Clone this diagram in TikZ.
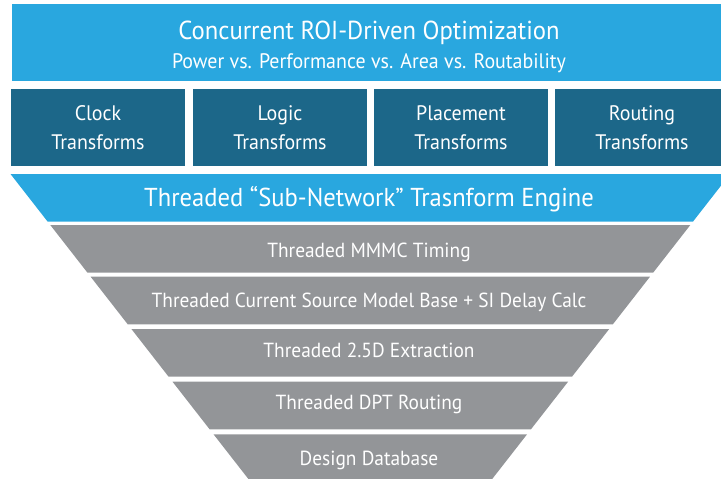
\documentclass[tikz,border=0pt]{standalone}
\usepackage{fontspec}
\setmainfont{PT Sans}[FakeStretch=0.95]

\definecolor{roiblue}{RGB}{41,167,223}
\definecolor{xformteal}{RGB}{28,103,137}
\definecolor{layergray}{RGB}{147,149,152}

\begin{document}
\begin{tikzpicture}
[
    x=1pt, y=-1pt,
    roi/.style={fill=roiblue},
    xform/.style={fill=xformteal},
    layer/.style={fill=layergray},
    whitetext/.style={text=white, inner sep=0pt, anchor=base},
    xformtext/.style={text=white, inner sep=0pt, align=center,
        font=\fontsize{21}{29}\selectfont},
    layertext/.style={whitetext, font=\fontsize{20.4}{23}\selectfont},
]
\clip (0,0) rectangle (721,479);

% optimization banner
\fill[roi] (12,4) rectangle (726,80.5);
\node[whitetext, font=\fontsize{26}{28}\selectfont] (title) at (369,39)
    {Concurrent ROI-Driven Optimization};
\node[whitetext, font=\fontsize{21}{24}\selectfont] (tradeoff) at (369,68)
    {Power vs. Performance vs. Area vs. Routability};

% transform boxes
\foreach \x/\name/\txt in {11/clock/Clock, 193/logic/Logic,
    374/placement/Placement, 555/routing/Routing}
{
    \fill[xform] (\x,89) rectangle ++(174,77);
    \node[xformtext] (\name) at (\x+87,128) {\txt\\Transforms};
}

% engine and the layers below it
\fill[roi] (10.5,174) -- (730.1,174) -- (730.1-0.78*47.7,221.7)
    -- (10.5+0.78*47.7,221.7) -- cycle;
\node[whitetext, font=\fontsize{25.9}{28}\selectfont] (engine) at (369,206.5)
    {Threaded “Sub-Network” Trasnform Engine};

\foreach \t/\b/\base/\name/\txt in {
    225/272.7/257.7/timing/{Threaded MMMC Timing},
    276.7/324.3/307.3/delaycalc/{Threaded Current Source Model Base + SI Delay Calc},
    329/376.7/357.7/extraction/{Threaded 2.5D Extraction},
    381.7/429.3/409.3/dpt/{Threaded DPT Routing},
    434.3/481/465.7/database/{Design Database}}
{
    \pgfmathsetmacro\lt{10.5+0.78*(\t-174)}
    \pgfmathsetmacro\rt{730.1-0.78*(\t-174)}
    \pgfmathsetmacro\lb{10.5+0.78*(\b-174)}
    \pgfmathsetmacro\rb{730.1-0.78*(\b-174)}
    \fill[layer] (\lt,\t) -- (\rt,\t) -- (\rb,\b) -- (\lb,\b) -- cycle;
    \node[layertext] (\name) at (369,\base) {\txt};
}
\end{tikzpicture}
\end{document}
